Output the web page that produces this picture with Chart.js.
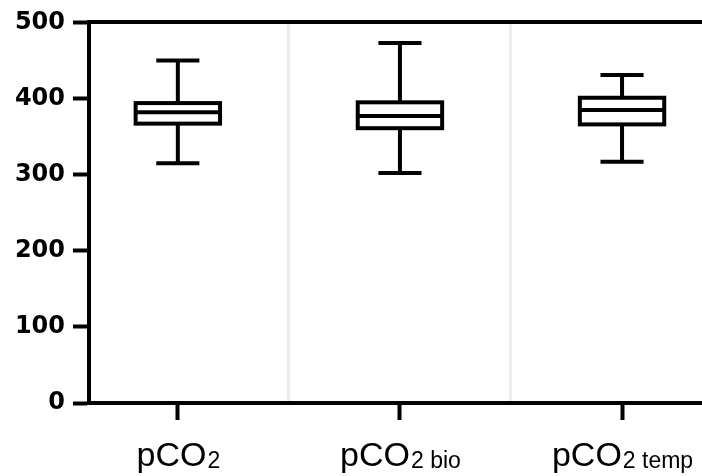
<!DOCTYPE html>
<html><head><meta charset="utf-8">
<script src="https://cdn.jsdelivr.net/npm/chart.js@4"></script>
<style>html,body{margin:0;padding:0;background:#fff;} #wrap{width:702px;height:476px;position:relative;}</style>
</head><body><div id="wrap"><canvas id="c" width="702" height="476"></canvas></div>
<script>
const categories = ['pCO2', 'pCO2 bio', 'pCO2 temp'];
const labelMain = ['pCO', 'pCO', 'pCO'];
const labelSub = ['2', '2 bio', '2 temp'];
const whiskerMin = [315, 302, 317];
const q1 = [367, 361, 366];
const median = [382, 377, 385];
const q3 = [394, 395, 401];
const whiskerMax = [450, 473, 431];
const yTicks = [0, 100, 200, 300, 400, 500];
const gridPositions = [0.5, 1.5];

const BOX_HALF = 0.19, CAP_HALF = 0.097, LW = 4;

const boxPlugin = {
  id: 'boxes',
  afterDatasetsDraw(chart) {
    const ctx = chart.ctx, xs = chart.scales.x, ys = chart.scales.y;
    ctx.save();
    ctx.strokeStyle = '#000'; ctx.lineWidth = LW; ctx.lineCap = 'butt'; ctx.lineJoin = 'miter';
    categories.forEach((c, i) => {
      const cx = xs.getPixelForValue(i);
      const bw = xs.getPixelForValue(i + BOX_HALF) - cx;
      const cw = xs.getPixelForValue(i + CAP_HALF) - cx;
      const yMin = ys.getPixelForValue(whiskerMin[i]);
      const yMax = ys.getPixelForValue(whiskerMax[i]);
      const yQ1 = ys.getPixelForValue(q1[i]);
      const yQ3 = ys.getPixelForValue(q3[i]);
      const yMed = ys.getPixelForValue(median[i]);
      ctx.beginPath();
      ctx.moveTo(cx, yMax); ctx.lineTo(cx, yQ3);
      ctx.moveTo(cx, yQ1); ctx.lineTo(cx, yMin);
      ctx.moveTo(cx - cw, yMax); ctx.lineTo(cx + cw, yMax);
      ctx.moveTo(cx - cw, yMin); ctx.lineTo(cx + cw, yMin);
      ctx.stroke();
      ctx.fillStyle = '#fff';
      ctx.fillRect(cx - bw, yQ3, 2 * bw, yQ1 - yQ3);
      ctx.strokeRect(cx - bw, yQ3, 2 * bw, yQ1 - yQ3);
      ctx.beginPath();
      ctx.moveTo(cx - bw, yMed); ctx.lineTo(cx + bw, yMed);
      ctx.stroke();
    });
    ctx.restore();
  }
};

const labelPlugin = {
  id: 'xlabels',
  afterDraw(chart) {
    const ctx = chart.ctx, xs = chart.scales.x;
    const base = chart.chartArea.bottom;
    ctx.save();
    ctx.fillStyle = '#000';
    ctx.textBaseline = 'alphabetic';
    ctx.textAlign = 'left';
    const mainFont = '34px "Liberation Sans", Arial, sans-serif';
    const subFont = '23px "Liberation Sans", Arial, sans-serif';
    categories.forEach((c, i) => {
      const cx = xs.getPixelForValue(i);
      ctx.font = mainFont; const w1 = ctx.measureText(labelMain[i]).width;
      ctx.font = subFont; const w2 = ctx.measureText(labelSub[i]).width;
      const x0 = cx - (w1 + w2) / 2;
      ctx.font = mainFont; ctx.fillText(labelMain[i], x0, base + 63);
      ctx.font = subFont; ctx.fillText(labelSub[i], x0 + w1 + 1, base + 65);
    });
    ctx.restore();
  }
};

new Chart(document.getElementById('c'), {
  type: 'scatter',
  data: { datasets: [{ data: median.map((m, i) => ({ x: i, y: m })), pointRadius: 0, xAxisID: 'x', yAxisID: 'y' }] },
  options: {
    responsive: false,
    animation: false,
    layout: { padding: 0 },
    plugins: { legend: { display: false }, tooltip: { enabled: false } },
    scales: {
      x: {
        type: 'linear', position: 'bottom', min: -0.4, max: 2.36,
        afterBuildTicks: s => { s.ticks = categories.map((c, i) => ({ value: i })); },
        ticks: { display: false },
        grid: { drawOnChartArea: false, drawTicks: true, tickLength: 17, tickWidth: LW, tickColor: '#000' },
        border: { display: true, color: '#000', width: LW },
        afterFit: s => { s.height = 73; }
      },
      x2: {
        type: 'linear', position: 'top', min: -0.4, max: 2.36,
        afterBuildTicks: s => { s.ticks = gridPositions.map(v => ({ value: v })); },
        ticks: { display: false },
        grid: { drawOnChartArea: true, drawTicks: false, color: '#ececec', lineWidth: 3 },
        border: { display: true, color: '#000', width: LW },
        afterFit: s => { s.height = 19; }
      },
      y: {
        type: 'linear', min: 0, max: 500,
        afterBuildTicks: s => { s.ticks = yTicks.map(v => ({ value: v })); },
        ticks: { color: '#000', font: { family: 'DejaVu Sans', weight: 'bold', size: 24 }, padding: 8 },
        grid: { drawOnChartArea: false, drawTicks: true, tickLength: 16, tickWidth: LW, tickColor: '#000' },
        border: { display: true, color: '#000', width: LW },
        afterFit: s => { s.width = 89; }
      }
    }
  },
  plugins: [boxPlugin, labelPlugin]
});
</script>
</body></html>
